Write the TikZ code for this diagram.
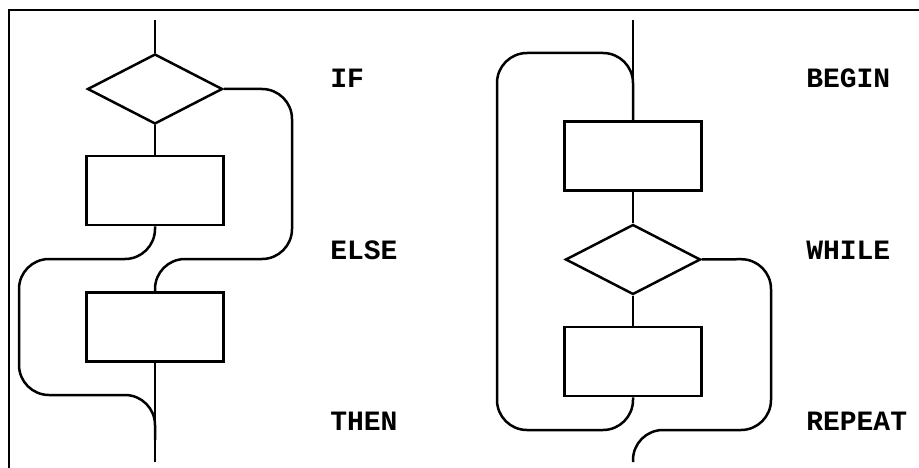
\documentclass[tikz,border=0pt]{standalone}
\usepackage{fontspec}
\setmonofont{Liberation Mono}
\usetikzlibrary{shapes, shapes.geometric}

\begin{document}
\begin{tikzpicture}[x = 1pt, y = -1pt, line width = 2.5pt,
      test/.style = {draw, diamond, minimum width = 135pt, minimum height = 70pt, inner sep = 0pt},
      block/.style = {draw, rectangle, minimum width = 137pt, minimum height = 69pt, inner sep = 0pt},
      word/.style = {anchor = base west, inner sep = 0pt, font = \ttfamily\bfseries\fontsize{28}{30}\selectfont},
      flow/.style = {rounded corners = 30pt}]
      \useasboundingbox (0, 0) rectangle (919, 468);
      \draw[line width = 1.2pt] (919, 10) -- (9, 10) -- (9, 468);
      % IF ELSE THEN
      \node[test] (ifcond) at (155, 89) {};
      \node[block] (ifpart) at (155, 190.5) {};
      \node[block] (elsepart) at (155, 327) {};
      \coordinate (ltop) at (155, 20);
      \coordinate (lbot) at (155, 462);
      \draw (ltop) -- (ifcond.north) (ifcond.south) -- (ifpart.north) (elsepart.south) -- (lbot);
      \draw[flow] (ifcond.east) -- (292, 89) -- (292, 259) -- (155, 259) -- (elsepart.north);
      \draw[flow] (ifpart.south) -- (155, 259) -- (19, 259) -- (19, 395) -- (155, 395) -- (155, 440);
      \node[word] (ifword) at (329, 88) {IF};
      \node[word] (elseword) at (329, 259) {ELSE};
      \node[word] (thenword) at (329, 430) {THEN};
      % BEGIN WHILE REPEAT
      \node[block] (loopbody) at (633, 156) {};
      \node[test] (whilecond) at (633, 259.5) {};
      \node[block] (looptail) at (633, 361.5) {};
      \coordinate (rtop) at (633, 20);
      \coordinate (rbot) at (633, 462);
      \draw (rtop) -- (loopbody.north) (loopbody.south) -- (whilecond.north) (whilecond.south) -- (looptail.north);
      \draw[flow] (looptail.south) -- (633, 430) -- (497, 430) -- (497, 53) -- (633, 53) -- (loopbody.north);
      \draw[flow] (whilecond.east) -- (771, 259) -- (771, 430) -- (633, 430) -- (rbot);
      \node[word] (beginword) at (805, 88) {BEGIN};
      \node[word] (whileword) at (805, 259) {WHILE};
      \node[word] (repeatword) at (805, 430) {REPEAT};
    \end{tikzpicture}
\end{document}
